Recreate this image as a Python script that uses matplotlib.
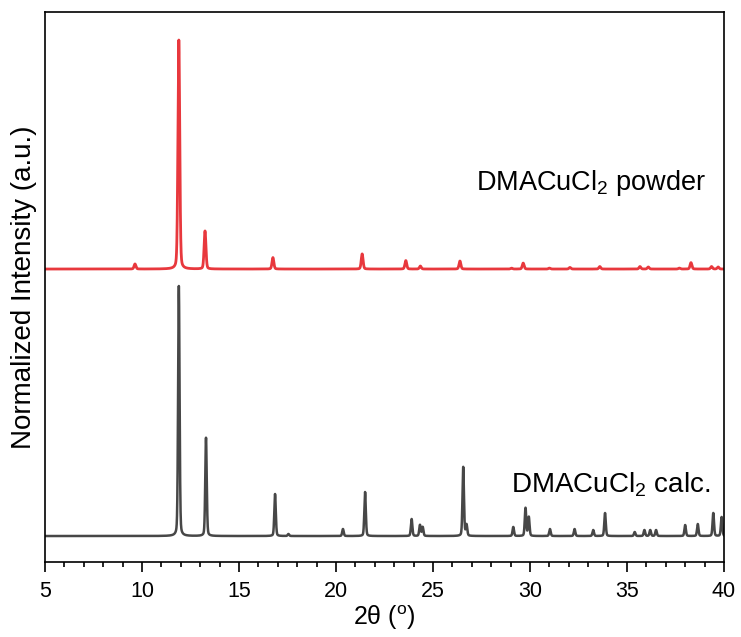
import numpy as np
import matplotlib
matplotlib.use("Agg")
import matplotlib.pyplot as plt
from matplotlib.ticker import MultipleLocator

plt.rcParams['font.family'] = ['Liberation Sans', 'DejaVu Sans']
plt.rcParams['mathtext.fontset'] = 'custom'
plt.rcParams['mathtext.rm'] = 'Liberation Sans'
plt.rcParams['mathtext.it'] = 'Liberation Sans:italic'

# measured powder pattern: peak positions (2theta) and relative heights (%)
powder_pos = [9.64, 11.9, 13.25, 16.75, 21.35, 23.6, 24.35, 26.39, 29.05,
              29.65, 31.0, 32.06, 33.6, 35.67, 36.1, 37.7, 38.3, 39.36, 39.7]
powder_int = [2.2, 100, 16.6, 5.0, 6.6, 3.7, 1.3, 3.5, 0.4,
              2.6, 0.4, 0.7, 1.1, 1.1, 0.9, 0.4, 2.8, 1.1, 0.9]

# calculated pattern from the crystal structure
calc_pos = [11.9, 13.3, 16.86, 17.55, 20.36, 21.5, 23.9, 24.33, 24.47,
            26.56, 26.73, 29.14, 29.77, 29.94, 31.03, 32.3, 33.26, 33.87,
            35.4, 35.9, 36.2, 36.5, 38.0, 38.65, 39.45, 39.88]
calc_int = [100, 39.3, 16.8, 0.8, 2.8, 17.6, 6.8, 4.4, 3.6,
            27.6, 4.4, 3.6, 11.2, 7.6, 2.8, 2.8, 2.4, 9.2,
            1.6, 2.4, 2.4, 2.4, 4.4, 4.8, 9.2, 7.6]

powder_scale = 0.916   # powder trace normalised a bit lower than calc
powder_offset = 1.068


def profile(x, pos, inten, fwhm):
    # pseudo-Voigt sum of the listed reflections
    y = np.zeros_like(x)
    g = fwhm / 2.3548
    for p, h in zip(pos, inten):
        lor = 1.0 / (1.0 + ((x - p) / (fwhm / 2)) ** 2)
        gau = np.exp(-0.5 * ((x - p) / g) ** 2)
        y += h / 100.0 * (0.75 * gau + 0.25 * lor)
    return y


x = np.linspace(5, 40, 7001)
y_calc = profile(x, calc_pos, calc_int, 0.09)
y_pow = profile(x, powder_pos, powder_int, 0.11)

fig = plt.figure(figsize=(7.41, 6.37), dpi=100)
ax = fig.add_axes([0.0607, 0.1177, 0.9163, 0.8634])

ax.plot(x, y_calc, color='#474747', lw=1.8)
ax.plot(x, y_pow * powder_scale + powder_offset, color='#e8383d', lw=2.0)

ax.set_xlim(5, 40)
ax.set_ylim(-0.104, 2.096)
ax.set_yticks([])
ax.xaxis.set_major_locator(MultipleLocator(5))
ax.xaxis.set_minor_locator(MultipleLocator(1))
ax.tick_params(axis='x', which='major', direction='out', length=7, width=1.2,
               labelsize=15.5, pad=7)
ax.tick_params(axis='x', which='minor', direction='out', length=3.5, width=1.2)
for s in ax.spines.values():
    s.set_linewidth(1.2)

ax.set_xlabel(r'2θ ($^{\mathrm{o}}$)', fontsize=18, labelpad=1)
ax.set_ylabel('Normalized Intensity (a.u.)', fontsize=20, labelpad=6)

ax.text(39.1, 1.384, r'DMACuCl$_2$ powder', fontsize=19.5, ha='right', va='baseline')
ax.text(39.3, 0.176, r'DMACuCl$_2$ calc.', fontsize=20, ha='right', va='baseline')

fig.savefig('out.png', dpi=100)
